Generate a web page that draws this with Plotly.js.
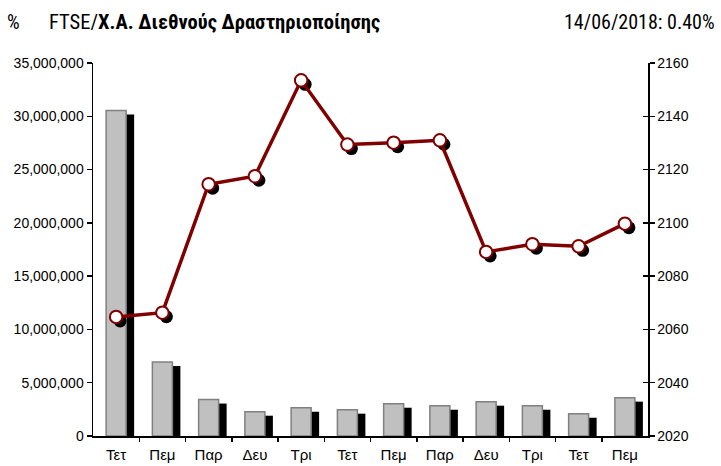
<!DOCTYPE html>
<html>
<head>
<meta charset="utf-8">
<script src="https://cdn.plot.ly/plotly-3.0.1.min.js"></script>
<style>html,body{margin:0;padding:0;background:#fff;}#chart{width:721px;height:466px;}</style>
</head>
<body>
<div id="chart"></div>
<script>
// ---- data ----
const categories = ["Τετ","Πεμ","Παρ","Δευ","Τρι","Τετ","Πεμ","Παρ","Δευ","Τρι","Τετ","Πεμ"];
const volumes = [30550000, 6950000, 3420000, 2280000, 2650000, 2470000, 3030000, 2840000, 3220000, 2840000, 2090000, 3600000];
const indexValues = [2064.7, 2066.3, 2114.5, 2117.5, 2153.5, 2129.4, 2130.1, 2131.0, 2089.1, 2092.0, 2091.2, 2099.7];
const leftTicks = [0, 5000000, 10000000, 15000000, 20000000, 25000000, 30000000, 35000000];
const rightTicks = [2020, 2040, 2060, 2080, 2100, 2120, 2140, 2160];
const titleMain = "FTSE/<b>Χ.Α. Διεθνούς Δραστηριοποίησης</b>";
const titleRight = "14/06/2018: 0.40%";

// ---- layout geometry ----
const W = 721, H = 466;
const M = {l: 93, r: 73, t: 63, b: 30};
const PW = W - M.l - M.r, PH = H - M.t - M.b;
const xIdx = categories.map((_, i) => i);
const catPx = PW / categories.length;
const leftMax = 35000000, rightMin = 2020, rightMax = 2160;
const barW = 20 / catPx;
const shadowDx = 8 / catPx;
const shadowDyLeft = 4 / PH * leftMax;
const mShadowDx = 4 / catPx;
const mShadowDyRight = 4 / PH * (rightMax - rightMin);
const fontNarrow = "Roboto Condensed";
const fontReg = "Liberation Sans";

const traces = [
  { type: 'bar', x: xIdx, y: volumes, base: volumes.map(() => -shadowDyLeft),
    width: barW, offset: -barW/2 + shadowDx,
    marker: {color: '#000', line: {width: 0}}, hoverinfo: 'skip', showlegend: false, cliponaxis: true },
  { type: 'bar', x: xIdx, y: volumes, width: barW, offset: -barW/2,
    marker: {color: '#c0c0c0', line: {color: '#808080', width: 1.5}}, showlegend: false },
  { type: 'scatter', mode: 'markers', x: xIdx.map(i => i + mShadowDx), y: indexValues.map(v => v - mShadowDyRight),
    yaxis: 'y2', marker: {color: '#000', size: 13}, hoverinfo: 'skip', showlegend: false, cliponaxis: false },
  { type: 'scatter', mode: 'lines+markers', x: xIdx, y: indexValues, yaxis: 'y2',
    line: {color: '#800000', width: 3.5},
    marker: {color: '#fff', size: 12.5, line: {color: '#800000', width: 2}}, showlegend: false, cliponaxis: false }
];

const layout = {
  width: W, height: H,
  margin: M,
  paper_bgcolor: '#fff', plot_bgcolor: '#fff',
  barmode: 'overlay',
  font: {family: fontReg, size: 14, color: '#000'},
  xaxis: {
    range: [-0.5, categories.length - 0.5], tickvals: xIdx, ticktext: categories,
    ticks: '', showgrid: false, zeroline: false, showline: true, linecolor: '#000', linewidth: 1.5,
    tickfont: {family: fontReg, size: 15}, ticklabelstandoff: 4, fixedrange: true
  },
  xaxis2: {
    overlaying: 'x', anchor: 'y', side: 'bottom', range: [-0.5, categories.length - 0.5],
    tickvals: xIdx.map(i => i + 0.5).slice(0, categories.length - 1), showticklabels: false,
    ticks: 'outside', ticklen: 5, tickwidth: 1.5, tickcolor: '#000', showgrid: false, zeroline: false, showline: false
  },
  yaxis: {
    range: [0, leftMax], tickvals: leftTicks, tickformat: ',d',
    ticks: 'outside', ticklen: 5, tickwidth: 1.5, tickcolor: '#000',
    showgrid: false, zeroline: false, showline: true, linecolor: '#000', linewidth: 1.5,
    tickfont: {family: fontReg, size: 14}
  },
  yaxis2: {
    overlaying: 'y', side: 'right', anchor: 'x', range: [rightMin, rightMax], tickvals: rightTicks,
    ticks: 'outside', ticklen: 5, tickwidth: 1.5, tickcolor: '#000',
    showgrid: false, zeroline: false, showline: true, linecolor: '#000', linewidth: 1.5,
    tickfont: {family: fontReg, size: 14}
  },
  yaxis3: {
    overlaying: 'y', side: 'right', anchor: 'x', range: [rightMin, rightMax], tickvals: rightTicks,
    ticks: 'inside', ticklen: 5, tickwidth: 1.5, tickcolor: '#000', showticklabels: false,
    showgrid: false, zeroline: false, showline: false
  },
  annotations: [
    {text: '%', xref: 'paper', yref: 'paper', x: (5 - M.l)/PW, y: (H - M.b - 22)/PH,
     xanchor: 'left', yanchor: 'middle', showarrow: false, font: {family: fontNarrow, size: 20}},
    {text: titleMain, xref: 'paper', yref: 'paper', x: (47 - M.l)/PW, y: (H - M.b - 22)/PH,
     xanchor: 'left', yanchor: 'middle', showarrow: false, font: {family: fontNarrow, size: 20.5}},
    {text: titleRight, xref: 'paper', yref: 'paper', x: (717 - M.l)/PW, y: (H - M.b - 22)/PH,
     xanchor: 'right', yanchor: 'middle', showarrow: false, font: {family: fontNarrow, size: 20}}
  ]
};

// dummy trace to activate yaxis3 and xaxis2
traces.push({type: 'scatter', x: [], y: [], yaxis: 'y3', xaxis: 'x2', showlegend: false, hoverinfo: 'skip'});

Plotly.newPlot('chart', traces, layout, {displayModeBar: false, staticPlot: true});
</script>
</body>
</html>
